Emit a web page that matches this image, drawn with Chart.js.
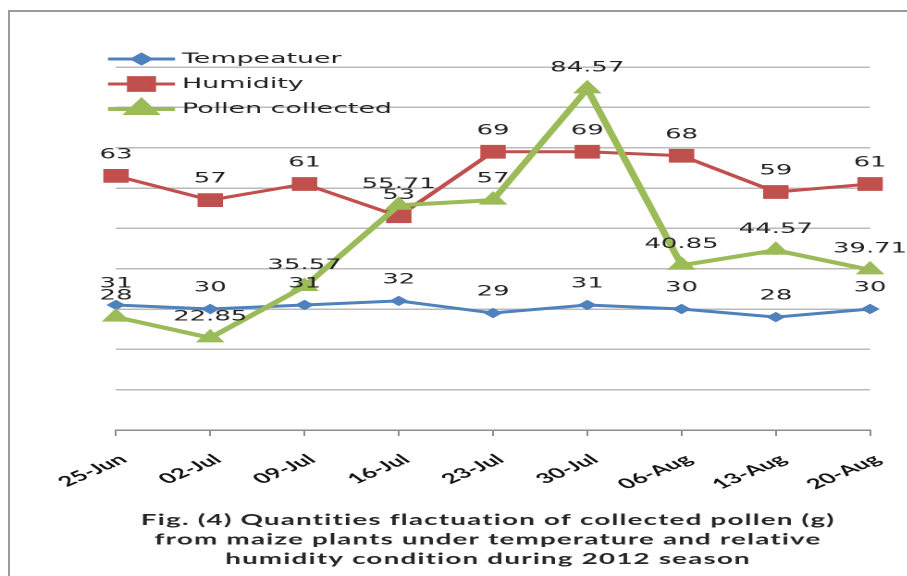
<!DOCTYPE html>
<html>
<head>
<meta charset="utf-8">
<script src="https://cdn.jsdelivr.net/npm/chart.js@4.4.1/dist/chart.umd.min.js"></script>
<style>
  html, body { margin: 0; padding: 0; background: #fff; overflow: hidden; }
  #frame { position: absolute; left: 8px; top: 10px; width: 1000px; height: 700px;
           border-left: 2px solid #9a9a9a; border-top: 2px solid #9a9a9a; }
  #wrap { position: absolute; left: 0; top: 0; height: 576px; transform-origin: 0 0; }
</style>
</head>
<body>
<div id="frame"></div>
<div id="wrap"><canvas id="chart"></canvas></div>
<script>
// the source figure is a horizontally stretched Excel chart, so draw narrow and stretch
const STRETCH = 1.85;

const dates       = ['25-Jun', '02-Jul', '09-Jul', '16-Jul', '23-Jul', '30-Jul', '06-Aug', '13-Aug', '20-Aug'];
const temperature = [31, 30, 31, 32, 29, 31, 30, 28, 30];
const humidity    = [63, 57, 61, 53, 69, 69, 68, 59, 61];
const pollen      = [28, 22.85, 35.57, 55.71, 57, 84.57, 40.85, 44.57, 39.71];
const titleLines  = [
  'Fig. (4) Quantities flactuation of collected pollen (g)',
  'from maize plants under temperature and relative',
  'humidity condition during 2012 season'
];

const COLORS = { temp: '#4F81BD', hum: '#C0504D', pollen: '#9BBB59', grid: '#bababa', axis: '#8c8c8c', text: '#222' };

const W = 907 / STRETCH;
const wrap = document.getElementById('wrap');
wrap.style.width = W + 'px';
wrap.style.transform = 'scaleX(' + STRETCH + ')';

// ── value labels above every point ─────────────────────────────
const pointLabels = {
  id: 'pointLabels',
  afterDatasetsDraw(chart) {
    const ctx = chart.ctx;
    ctx.save();
    ctx.font = '14px "DejaVu Sans"';
    ctx.fillStyle = COLORS.text;
    ctx.textAlign = 'center';
    ctx.textBaseline = 'middle';
    chart.data.datasets.forEach((ds, i) => {
      chart.getDatasetMeta(i).data.forEach((el, j) => {
        ctx.fillText(String(ds.data[j]), el.x, el.y - 21);
      });
    });
    ctx.restore();
  }
};

// ── legend inside the plot, line + marker like Excel ──────────
const lineLegend = {
  id: 'lineLegend',
  afterDraw(chart) {
    const ctx = chart.ctx;
    const x0 = 108 / STRETCH, x1 = 175 / STRETCH, tx = 182 / STRETCH;
    const rows = [59, 84, 109];
    ctx.save();
    chart.data.datasets.forEach((ds, i) => {
      const y = rows[i];
      ctx.strokeStyle = ds.borderColor;
      ctx.lineWidth = ds.borderWidth;
      ctx.beginPath(); ctx.moveTo(x0, y); ctx.lineTo(x1, y); ctx.stroke();
      ctx.fillStyle = ds.borderColor;
      Chart.helpers.drawPoint(ctx, { pointStyle: ds.pointStyle, radius: ds.pointRadius, rotation: 0, borderWidth: 1 }, (x0 + x1) / 2, y);
      ctx.fillStyle = COLORS.text;
      ctx.font = '14.5px "DejaVu Sans"';
      ctx.textAlign = 'left';
      ctx.textBaseline = 'middle';
      ctx.fillText(ds.label, tx, y);
    });
    ctx.restore();
  }
};

// ── caption under the axis ─────────────────────────────────────
const caption = {
  id: 'caption',
  afterDraw(chart) {
    const ctx = chart.ctx;
    ctx.save();
    ctx.font = 'bold 15px Lato';
    ctx.letterSpacing = '0.65px';
    ctx.fillStyle = '#262626';
    ctx.textAlign = 'center';
    ctx.textBaseline = 'middle';
    titleLines.forEach((t, i) => ctx.fillText(t, 488 / STRETCH, 520 + i * 19.5));
    ctx.restore();
  }
};

function series(label, data, color, style, radius, width, order) {
  return {
    label, data, order,
    borderColor: color, backgroundColor: color, borderWidth: width,
    pointStyle: style, pointRadius: radius, pointBackgroundColor: color,
    pointBorderColor: color, pointBorderWidth: 1, tension: 0, clip: false
  };
}

new Chart(document.getElementById('chart'), {
  type: 'line',
  data: {
    labels: dates,
    datasets: [
      series('Tempeatuer', temperature, COLORS.temp, 'rectRot', 4.5, 3, 2),
      series('Humidity', humidity, COLORS.hum, 'rect', 9, 3, 1),
      series('Pollen collected', pollen, COLORS.pollen, 'triangle', 8, 4, 0)
    ]
  },
  options: {
    responsive: true, maintainAspectRatio: false, animation: false,
    devicePixelRatio: 2, events: [],
    layout: { padding: { left: 116 / STRETCH, right: W - 870 / STRETCH, top: 67, bottom: 76 } },
    plugins: { legend: { display: false }, tooltip: { enabled: false }, title: { display: false } },
    scales: {
      x: {
        offset: false,
        afterFit: s => { s.height = 70; s.paddingLeft = 0; s.paddingRight = 0; },
        grid: { drawOnChartArea: false, drawTicks: true, tickLength: 6, color: COLORS.axis, lineWidth: 1 },
        border: { display: true, color: COLORS.axis, width: 1.5 },
        ticks: { color: '#111', font: { family: 'Lato', weight: 'bold', size: 14 }, minRotation: 38, maxRotation: 38,
                 padding: 15, labelOffset: 4 }
      },
      y: {
        min: 0, max: 90,
        afterFit: s => { s.width = 0; },
        ticks: { display: false, stepSize: 10 },
        grid: { color: COLORS.grid, lineWidth: 1.5, drawTicks: false },
        border: { display: false }
      }
    }
  },
  plugins: [pointLabels, lineLegend, caption]
});
</script>
</body>
</html>
